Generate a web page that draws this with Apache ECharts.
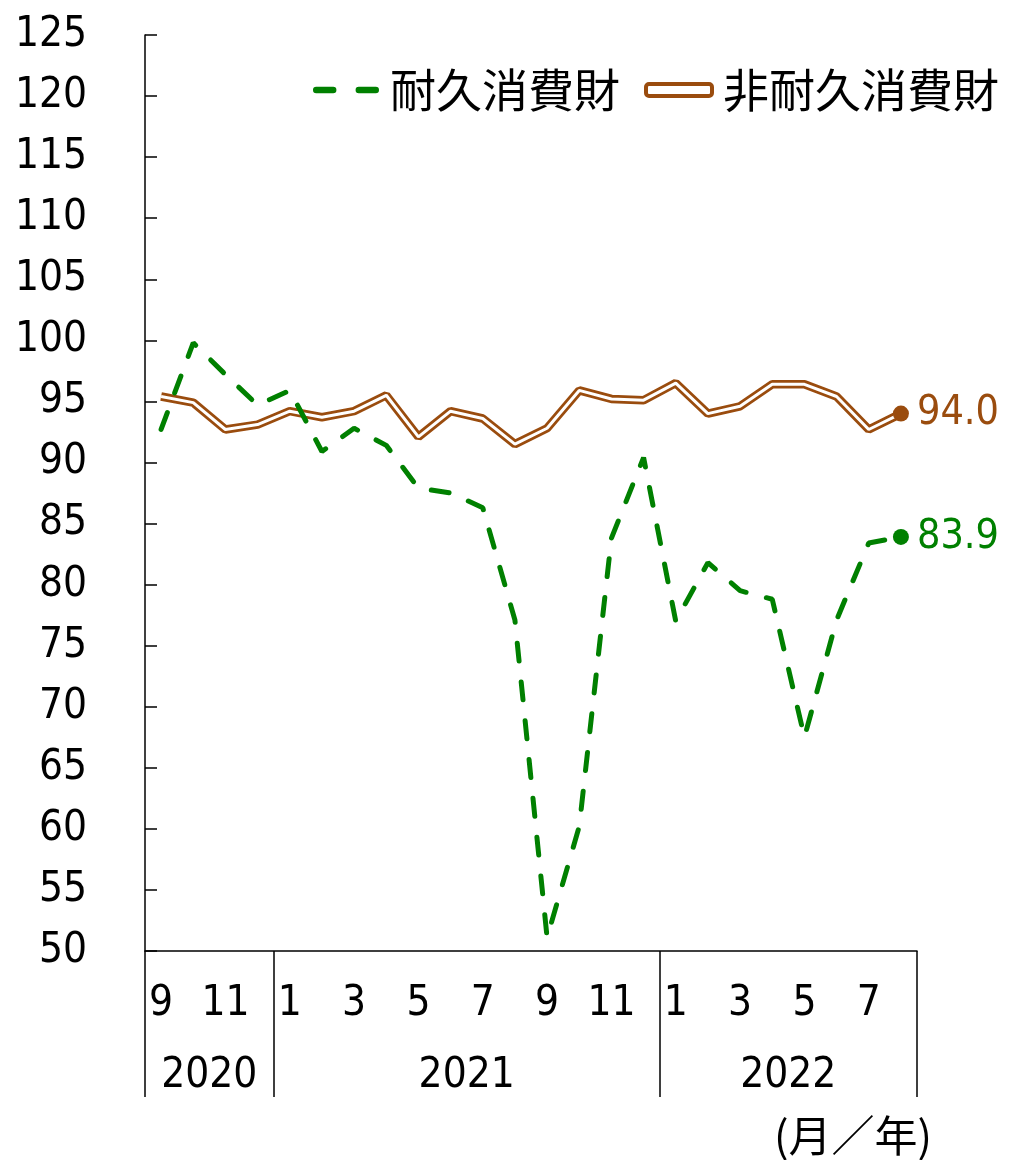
<!DOCTYPE html>
<html>
<head>
<meta charset="utf-8">
<script src="https://cdn.jsdelivr.net/npm/echarts@6/dist/echarts.min.js"></script>
<style>
html,body{margin:0;padding:0;background:#fff;}
#chart{width:1028px;height:1160px;}
</style>
</head>
<body>
<div id="chart"></div>
<script>
// ---- data ----
var months = ['9','10','11','12','1','2','3','4','5','6','7','8','9','10','11','12','1','2','3','4','5','6','7','8'];
var years = ['2020','2021','2022'];
var yearMonthCounts = [4, 12, 8];
var durable = [92.7, 99.8, 97.2, 94.7, 95.9, 90.9, 92.8, 91.4, 87.9, 87.5, 86.3, 77.1, 51.1, 60.2, 83.8, 90.4, 77.0, 81.8, 79.5, 78.8, 67.5, 77.1, 83.4, 83.9];
var nondurable = [95.4, 94.9, 92.7, 93.1, 94.2, 93.7, 94.2, 95.5, 92.1, 94.2, 93.6, 91.5, 92.8, 95.9, 95.2, 95.1, 96.5, 94.0, 94.6, 96.4, 96.4, 95.4, 92.7, 94.0];
var yTicks = {min: 50, max: 125, interval: 5};
var seriesNames = ['耐久消費財', '非耐久消費財'];
var unitLabel = '(月／年)';

// ---- styles ----
var GREEN = '#008000';
var BROWN = '#9a4c0e';
var NUM_FONT = "'Liberation Sans Narrow', 'DejaVu Sans Condensed', 'Liberation Sans', sans-serif";
var CJK_FONT = "'Noto Sans CJK JP', sans-serif";

var boundaries = [0];
var centers = [];
yearMonthCounts.forEach(function (c) {
  var start = boundaries[boundaries.length - 1];
  centers.push(start + c / 2);
  boundaries.push(start + c);
});

function withEndPoint(arr, color) {
  var last = arr.length - 1;
  return arr.map(function (v, i) {
    if (i !== last) return v;
    return {
      value: v,
      symbol: 'circle',
      symbolSize: 16,
      itemStyle: {color: color},
      label: {
        show: true, position: 'right', distance: 8,
        formatter: function (p) { return Number(p.value).toFixed(1); },
        color: color, fontSize: 41, fontFamily: NUM_FONT, letterSpacing: 2
      }
    };
  });
}

var chart = echarts.init(document.getElementById('chart'), null, {renderer: 'canvas'});
var option = {
  backgroundColor: '#fff',
  animation: false,
  grid: {left: 145, right: 111, top: 35, bottom: 209},
  legend: {
    right: 24, top: 62,
    itemWidth: 66, itemHeight: 12, itemGap: 24,
    textStyle: {fontSize: 46, fontFamily: CJK_FONT, color: '#000', padding: [0, 0, 0, 6]},
    data: [
      {name: seriesNames[0], icon: 'path://M3,0h16a3,3 0 0 1 0,6h-16a3,3 0 0 1 0,-6z M43,0h16a3,3 0 0 1 0,6h-16a3,3 0 0 1 0,-6z', itemStyle: {color: GREEN}},
      {name: seriesNames[1], icon: 'roundRect', itemStyle: {color: '#fff', borderColor: BROWN, borderWidth: 4}}
    ]
  },
  xAxis: [
    {
      type: 'category',
      data: months,
      boundaryGap: true,
      axisLine: {show: true, lineStyle: {color: '#000', width: 1.5}},
      axisTick: {show: false},
      axisLabel: {interval: 1, fontSize: 42, fontFamily: NUM_FONT, color: '#000', margin: 32}
    },
    {
      type: 'value',
      min: 0, max: months.length,
      position: 'bottom',
      axisLine: {show: false},
      splitLine: {show: false},
      axisTick: {show: true, customValues: boundaries, length: 146, inside: false, lineStyle: {color: '#000', width: 1.5}},
      axisLabel: {
        customValues: centers,
        formatter: function (v) { return years[centers.indexOf(v)] || ''; },
        fontSize: 42, fontFamily: NUM_FONT, color: '#000', margin: 104
      }
    }
  ],
  yAxis: {
    type: 'value',
    min: yTicks.min, max: yTicks.max, interval: yTicks.interval,
    axisLine: {show: true, lineStyle: {color: '#000', width: 1.5}},
    axisTick: {show: true, inside: true, length: 12, lineStyle: {color: '#000', width: 1.5}},
    splitLine: {show: false},
    axisLabel: {fontSize: 42, fontFamily: NUM_FONT, color: '#000', margin: 58}
  },
  graphic: [{
    type: 'text', right: 96, top: 1114,
    style: {text: unitLabel, fontSize: 43, fontFamily: CJK_FONT, fill: '#000'}
  }],
  series: [
    {
      name: seriesNames[1], type: 'line', xAxisIndex: 0,
      data: nondurable,
      symbol: 'none',
      itemStyle: {color: BROWN},
      lineStyle: {color: BROWN, width: 8.5},
      z: 2
    },
    {
      name: 'inner', type: 'line', xAxisIndex: 0,
      data: withEndPoint(nondurable, BROWN),
      symbol: 'none', showSymbol: true,
      lineStyle: {color: '#fff', width: 3},
      z: 3
    },
    {
      name: seriesNames[0], type: 'line', xAxisIndex: 0,
      data: withEndPoint(durable, GREEN),
      symbol: 'none', showSymbol: true,
      itemStyle: {color: GREEN},
      lineStyle: {color: GREEN, width: 5, type: [18, 21], cap: 'round'},
      z: 4
    }
  ]
};
chart.setOption(option);
</script>
</body>
</html>
